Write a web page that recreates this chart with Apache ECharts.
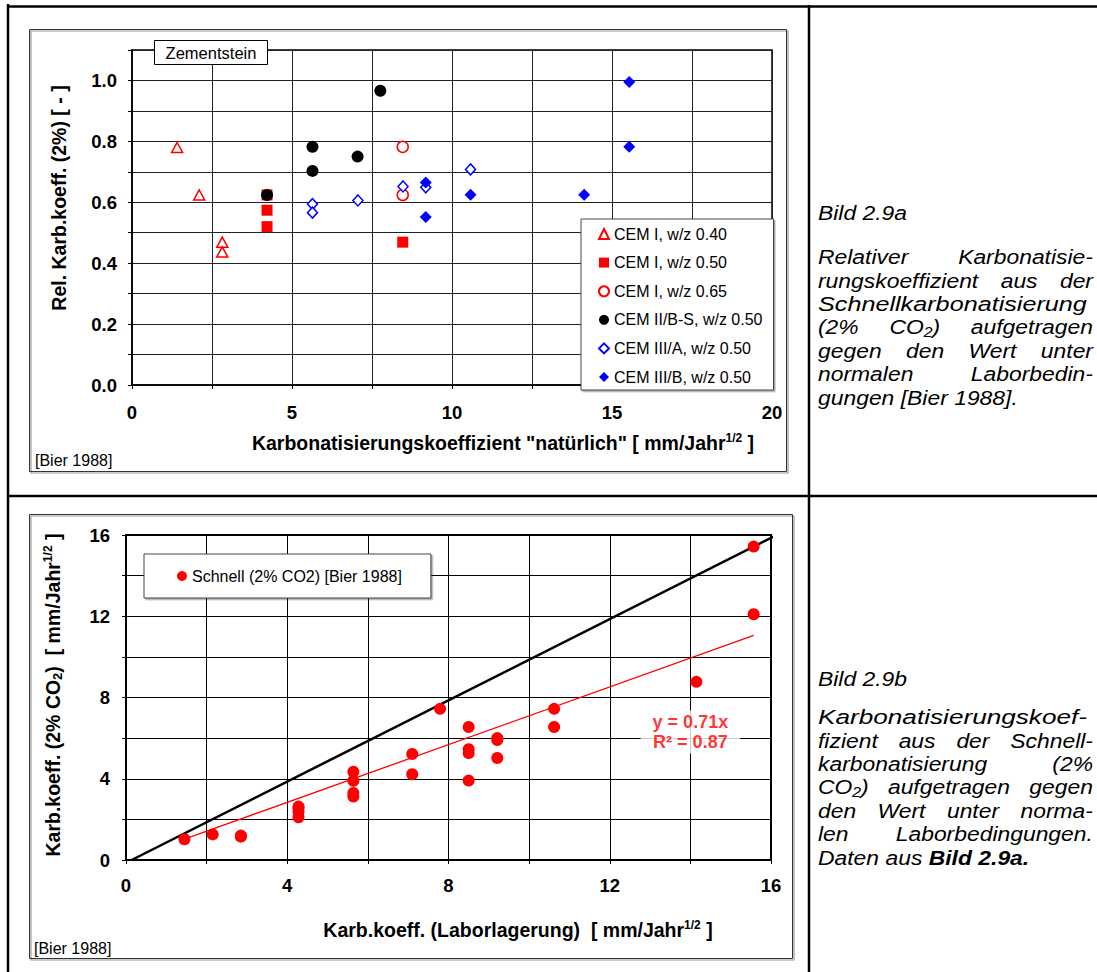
<!DOCTYPE html>
<html><head><meta charset="utf-8">
<script src="https://cdn.jsdelivr.net/npm/echarts@6/dist/echarts.min.js"></script>
<style>html,body{margin:0;padding:0;background:#fff}#c{width:1097px;height:972px}</style>
</head><body><div id="c"></div>
<script>
const FONT = '"Liberation Sans", Arial, Helvetica, sans-serif';

// ---------- Top chart (Bild 2.9a) data: [natürlich, relativ] ----------
const cem1_040 = [[1.41,0.78],[2.10,0.624],[2.82,0.469],[2.82,0.437]];
const cem1_050 = [[4.22,0.624],[4.22,0.574],[4.22,0.52],[8.46,0.469]];
const cem1_065 = [[8.46,0.782],[8.46,0.624]];
const cem2bs   = [[4.22,0.624],[5.64,0.782],[5.64,0.703],[7.05,0.75],[7.76,0.966]];
const cem3a    = [[5.64,0.594],[5.64,0.566],[7.06,0.606],[8.47,0.652],[9.18,0.649],[10.58,0.708]];
const cem3b    = [[9.18,0.665],[9.18,0.552],[10.58,0.625],[14.13,0.625],[15.54,0.995],[15.54,0.782]];
const topNames = ['CEM I, w/z 0.40','CEM I, w/z 0.50','CEM I, w/z 0.65','CEM II/B-S, w/z 0.50','CEM III/A, w/z 0.50','CEM III/B, w/z 0.50'];
const topXLabels = [0,5,10,15,20];
const topYLabels = [0.0,0.2,0.4,0.6,0.8,1.0];

// ---------- Bottom chart (Bild 2.9b) data: [Laborlagerung, Schnell] ----------
const schnell = [[1.45,1.02],[2.15,1.26],[2.85,1.20],[2.85,1.15],
  [4.28,2.63],[4.28,2.55],[4.28,2.38],[4.28,2.10],
  [5.64,4.35],[5.64,3.90],[5.64,3.30],[5.64,3.12],
  [7.10,5.22],[7.10,4.22],[7.79,7.44],
  [8.50,6.55],[8.50,5.45],[8.50,5.26],[8.50,3.91],
  [9.21,6.00],[9.21,5.91],[9.21,5.02],
  [10.62,7.44],[10.62,6.55],[14.15,8.77],[15.57,15.43],[15.57,12.10]];
const schnellName = 'Schnell (2% CO2) [Bier 1988]';
const identityLine = [[0.14,0],[16.17,16.03]];
const trendSlope = 0.71;
const trendR2 = 0.87;
const trendLabelAt = [14.0, 6.3];
const botXLabels = [0,4,8,12,16];
const botYLabels = [0,4,8,12,16];

// ---------- Captions ----------
const capTitleA = 'Bild 2.9a';
const capLinesA = ['Relativer Karbonatisie-','rungskoeffizient aus der','Schnellkarbonatisierung',
  '(2% CO\u2082) aufgetragen','gegen den Wert unter','normalen Laborbedin-','gungen [Bier 1988].'];
const capTitleB = 'Bild 2.9b';
const capLinesB = ['Karbonatisierungskoef-','fizient aus der Schnell-','karbonatisierung (2%',
  'CO\u2082) aufgetragen gegen','den Wert unter norma-','len Laborbedingungen.','Daten aus **Bild** **2.9a.**'];

// trend line spans the data range
const xs = schnell.map(p=>p[0]);
const tMin = Math.min(...xs), tMax = Math.max(...xs);
const trendLine = [[tMin, trendSlope*tMin],[tMax, trendSlope*tMax]];

// ---------- caption layout helpers ----------
const CAP_FS = 21, CAP_SCALE = 1.09, CAP_L = 818, CAP_R = 1093;
const mctx = document.createElement('canvas').getContext('2d');
function capFont(b){ return (b ? 'italic bold ' : 'italic ') + CAP_FS + 'px ' + FONT; }
function tw(t,b){ mctx.font = capFont(b); return mctx.measureText(t).width * CAP_SCALE; }
function tEl(t,x,y,b,sx){ return {type:'text', x:x, y:y, scaleX:sx||CAP_SCALE, silent:true,
  style:{text:t, font:capFont(b), fill:'#000', align:'left', verticalAlign:'middle'}}; }
function caption(title, lines, titleY, y0, step){
  const els = [tEl(title, CAP_L, titleY, false)];
  lines.forEach((line,i)=>{
    const y = y0 + i*step, last = i === lines.length-1;
    const words = line.split(' ').map(w=>{const b=/^\*\*.*\*\*$/.test(w); return {t:b?w.slice(2,-2):w, b:b};});
    const ws = words.map(w=>tw(w.t,w.b));
    let gap = tw(' ', false);
    if (!last && words.length > 1) gap = (CAP_R - CAP_L - ws.reduce((a,b)=>a+b,0)) / (words.length-1);
    if (!last && words.length === 1) {
      const target = CAP_R - 6 - CAP_L;
      els.push(tEl(words[0].t, CAP_L, y, words[0].b, CAP_SCALE*Math.max(1, target/ws[0])));
      return;
    }
    let x = CAP_L;
    words.forEach((w,k)=>{ els.push(tEl(w.t, x, y, w.b)); x += ws[k] + gap; });
  });
  return els;
}

const chart = echarts.init(document.getElementById('c'), null, {renderer:'svg'});

const tickLab = {fontFamily:FONT, fontWeight:'bold', fontSize:18.5, color:'#000'};
const NFS = 19.5;
const nameStyle = {fontFamily:FONT, fontWeight:'bold', fontSize:NFS, color:'#000',
  rich:{ b:{fontFamily:FONT, fontWeight:'bold', fontSize:NFS, color:'#000', lineHeight:22},
         sup:{fontFamily:FONT, fontWeight:'bold', fontSize:12, color:'#000', verticalAlign:'top'},
         sub:{fontFamily:FONT, fontWeight:'bold', fontSize:13, color:'#000', verticalAlign:'bottom'} }};
function ns(extra){ return Object.assign({}, nameStyle, extra); }
function hasLab(arr, v){ return arr.some(t=>Math.abs(t-v) < 1e-6); }

const pageLines = [
  [8,4,8,972],[7,6.5,1097,6.5],[809,5,809,972],[7,496,1097,496]
].map(l=>({type:'line', silent:true, shape:{x1:l[0],y1:l[1],x2:l[2],y2:l[3]}, style:{stroke:'#000', lineWidth:2.5}}));

function frame(x,y,w,h){
  return [
    {type:'rect', silent:true, shape:{x:x+1.5,y:y+1.5,width:w,height:h}, style:{fill:'none', stroke:'#9a9a9a', lineWidth:1.2}},
    {type:'rect', silent:true, shape:{x:x,y:y,width:w,height:h}, style:{fill:'none', stroke:'#333', lineWidth:1}}
  ];
}

const graphics = [].concat(
  pageLines,
  frame(29.5,29.5,757,442),
  frame(29.5,514.5,763,444),
  [
    {type:'rect', z:100, silent:true, shape:{x:154.5,y:40.5,width:113,height:24}, style:{fill:'#fff', stroke:'#000', lineWidth:1}},
    {type:'text', z:101, silent:true, x:211, y:52.5, style:{text:'Zementstein', font:'16.5px '+FONT, fill:'#000', align:'center', verticalAlign:'middle'}},
    {type:'text', x:35, y:460, silent:true, style:{text:'[Bier 1988]', font:'16px '+FONT, fill:'#000', align:'left', verticalAlign:'middle'}},
    {type:'text', x:34, y:948, silent:true, style:{text:'[Bier 1988]', font:'16px '+FONT, fill:'#000', align:'left', verticalAlign:'middle'}}
  ],
  caption(capTitleA, capLinesA, 213, 257, 23.4),
  caption(capTitleB, capLinesB, 679, 717, 23.4)
);

const legendCommon = {selectedMode:false, backgroundColor:'#fff', borderColor:'#444', borderWidth:1,
  shadowColor:'rgba(0,0,0,0.35)', shadowOffsetX:1.5, shadowOffsetY:1.5, shadowBlur:0,
  itemWidth:10, itemHeight:10,
  textStyle:{fontFamily:FONT, fontSize:16, color:'#000', lineHeight:14}};

const option = {
  animation:false,
  backgroundColor:'#fff',
  grid:[
    {left:132, top:50, width:640, height:335, show:true, borderColor:'#000', borderWidth:1.5, backgroundColor:'transparent'},
    {left:126, top:535, width:645, height:325, show:true, borderColor:'#000', borderWidth:2, backgroundColor:'transparent'}
  ],
  xAxis:[
    {gridIndex:0, type:'value', min:0, max:20, interval:2.5,
     axisLine:{show:true, lineStyle:{color:'#000', width:1.5}},
     axisTick:{show:true, length:4, lineStyle:{color:'#000'}},
     splitLine:{show:true, lineStyle:{color:'#222', width:1}},
     axisLabel:Object.assign({margin:18, formatter:v=>hasLab(topXLabels,v)?String(v):''}, tickLab),
     name:'{b|Karbonatisierungskoeffizient "natürlich" [ mm/Jahr}{sup|1/2}{b| ]}',
     nameLocation:'middle', nameGap:47, nameTextStyle:ns({padding:[0,0,0,102]})},
    {gridIndex:1, type:'value', min:0, max:16, interval:2,
     axisLine:{show:true, lineStyle:{color:'#000', width:2}},
     axisTick:{show:true, length:4, lineStyle:{color:'#000'}},
     splitLine:{show:true, lineStyle:{color:'#000', width:1}},
     axisLabel:Object.assign({margin:16, formatter:v=>hasLab(botXLabels,v)?String(v):''}, tickLab),
     name:'{b|Karb.koeff. (Laborlagerung)  [ mm/Jahr}{sup|1/2}{b| ]}',
     nameLocation:'middle', nameGap:59, nameTextStyle:ns({padding:[0,0,0,139]})}
  ],
  yAxis:[
    {gridIndex:0, type:'value', min:0, max:1.1, interval:0.1,
     axisLine:{show:true, lineStyle:{color:'#000', width:1.5}},
     axisTick:{show:true, length:4, lineStyle:{color:'#000'}},
     splitLine:{show:true, lineStyle:{color:'#222', width:1}},
     axisLabel:Object.assign({margin:15, formatter:v=>{const r=Math.round(v*10)/10; return hasLab(topYLabels,r)?r.toFixed(1):'';}}, tickLab),
     name:'{b|Rel. Karb.koeff. (2%) [ - ]}',
     nameLocation:'middle', nameGap:62, nameTextStyle:ns({padding:[0,0,0,39]})},
    {gridIndex:1, type:'value', min:0, max:16, interval:2,
     axisLine:{show:true, lineStyle:{color:'#000', width:2}},
     axisTick:{show:true, length:4, lineStyle:{color:'#000'}},
     splitLine:{show:true, lineStyle:{color:'#000', width:1}},
     axisLabel:Object.assign({margin:16, formatter:v=>hasLab(botYLabels,v)?String(v):''}, tickLab),
     name:'{b|Karb.koeff. (2% CO}{sub|2}{b|)  [ mm/Jahr}{sup|1/2}{b| ]}',
     nameLocation:'middle', nameGap:62, nameTextStyle:ns({padding:[0,0,0,5]})}
  ],
  legend:[
    Object.assign({data:topNames, orient:'vertical', left:581, top:219, padding:[7,11,5,17], itemGap:12.6}, legendCommon),
    Object.assign({data:[schnellName], orient:'horizontal', left:144, top:554, padding:[14,29,14,33]}, legendCommon)
  ],
  series:[
    {name:topNames[0], type:'scatter', xAxisIndex:0, yAxisIndex:0, data:cem1_040, symbol:'triangle', symbolSize:[11,10],
     itemStyle:{color:'#fff', borderColor:'#ff0000', borderWidth:1.5, opacity:1}},
    {name:topNames[1], type:'scatter', xAxisIndex:0, yAxisIndex:0, data:cem1_050, symbol:'rect', symbolSize:11,
     itemStyle:{color:'#ff0000', opacity:1}},
    {name:topNames[2], type:'scatter', xAxisIndex:0, yAxisIndex:0, data:cem1_065, symbol:'circle', symbolSize:11,
     itemStyle:{color:'#fff', borderColor:'#ff0000', borderWidth:1.5, opacity:1}},
    {name:topNames[3], type:'scatter', xAxisIndex:0, yAxisIndex:0, data:cem2bs, symbol:'circle', symbolSize:12,
     itemStyle:{color:'#000', opacity:1}},
    {name:topNames[4], type:'scatter', xAxisIndex:0, yAxisIndex:0, data:cem3a, symbol:'diamond', symbolSize:[10,11],
     itemStyle:{color:'#fff', borderColor:'#0000ff', borderWidth:1.5, opacity:1}},
    {name:topNames[5], type:'scatter', xAxisIndex:0, yAxisIndex:0, data:cem3b, symbol:'diamond', symbolSize:12,
     itemStyle:{color:'#0000ff', opacity:1}},
    {name:'1:1', type:'line', xAxisIndex:1, yAxisIndex:1, data:identityLine, symbol:'none', clip:false, z:3,
     lineStyle:{color:'#000', width:2.5}},
    {name:'Trend', type:'line', xAxisIndex:1, yAxisIndex:1, data:trendLine, symbol:'none', z:3,
     lineStyle:{color:'#ff0000', width:1.3}},
    {name:schnellName, type:'scatter', xAxisIndex:1, yAxisIndex:1, data:schnell, symbol:'circle', symbolSize:12, z:4,
     itemStyle:{color:'#ff0000', opacity:1}},
    {name:'Trendlabel', type:'scatter', xAxisIndex:1, yAxisIndex:1, data:[trendLabelAt], symbolSize:0, z:5,
     label:{show:true, position:'inside', formatter:'y = '+trendSlope.toFixed(2)+'x\nR\u00b2 = '+trendR2.toFixed(2),
       fontFamily:FONT, fontWeight:'bold', fontSize:18, lineHeight:20, color:'#ff0000', align:'center',
       backgroundColor:'#fff', padding:[2,12,1,12]}}
  ],
  graphic:{elements:graphics}
};
chart.setOption(option);
</script></body></html>
